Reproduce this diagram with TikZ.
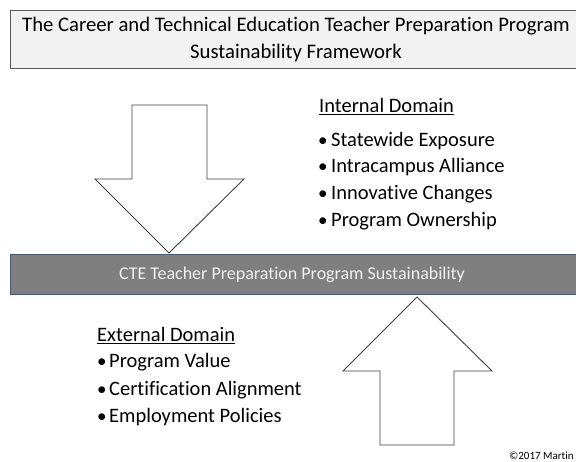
\documentclass[tikz,border=0pt]{standalone}
\usepackage{fontspec}
\setmainfont{Carlito}[Ligatures=NoCommon]
\definecolor{titlefill}{HTML}{F2F2F2}
\definecolor{titleline}{HTML}{595959}
\definecolor{bandfill}{HTML}{7F7F7F}
\definecolor{bandline}{HTML}{4A5872}
\definecolor{bandtext}{HTML}{F0F0F0}
\definecolor{arrowline}{HTML}{404040}
\tikzset{
  titlebox/.style={draw=titleline, fill=titlefill, line width=0.9pt},
  bandbox/.style={draw=bandline, fill=bandfill, line width=1pt},
  bigarrow/.style={draw=arrowline, fill=white, line width=0.9pt, line join=miter},
  heading/.style={anchor=base west, inner sep=0pt, font=\fontsize{20.5}{24}\selectfont},
  itemtext/.style={anchor=base west, inner sep=0pt, font=\fontsize{20.5}{24}\selectfont},
  bullettext/.style={anchor=base west, inner sep=0pt, font=\fontsize{19}{24}\selectfont},
}
\begin{document}
\begin{tikzpicture}[x=1pt,y=1pt]
\useasboundingbox (0,0) rectangle (576,461);
\begin{scope}
\clip (0,0) rectangle (576,461);
% title
\draw[titlebox] (10,393) rectangle (600,451);
\node[font=\fontsize{20.7}{27}\selectfont, align=center, inner sep=0pt, anchor=base] (title) at (296,402)
  {The Career and Technical Education Teacher Preparation Program\\Sustainability Framework};
% band
\draw[bandbox] (10,166) rectangle (600,206);
\node[font=\fontsize{18}{20}\selectfont, text=bandtext, inner sep=0pt, anchor=base] (band) at (292,181)
  {CTE Teacher Preparation Program Sustainability};
% down arrow
\draw[bigarrow] (132,356) -- (207,356) -- (207,282) -- (244,282) -- (169,208) -- (95,282) -- (132,282) -- cycle;
% up arrow
\draw[bigarrow] (417,164) -- (492,90) -- (454,90) -- (454,16) -- (380,16) -- (380,90) -- (343,90) -- cycle;
% internal domain
\node[heading] (inth) at (319,348) {\underline{Internal Domain}};
\node[bullettext] (ib1) at (318,314) {•};
\node[itemtext] (i1) at (331,314) {Statewide Exposure};
\node[bullettext] (ib2) at (318,288) {•};
\node[itemtext] (i2) at (331,288) {Intracampus Alliance};
\node[bullettext] (ib3) at (318,261) {•};
\node[itemtext] (i3) at (331,261) {Innovative Changes};
\node[bullettext] (ib4) at (318,234) {•};
\node[itemtext] (i4) at (331,234) {Program Ownership};
% external domain
\node[heading] (exth) at (97,119) {\underline{External Domain}};
\node[bullettext] (eb1) at (97,93) {•};
\node[itemtext] (e1) at (109,93) {Program Value};
\node[bullettext] (eb2) at (97,66) {•};
\node[itemtext] (e2) at (109,66) {Certification Alignment};
\node[bullettext] (eb3) at (97,39) {•};
\node[itemtext] (e3) at (109,39) {Employment Policies};
% copyright
\node[anchor=base west, inner sep=0pt, font=\fontsize{11}{13}\selectfont] (copy) at (509,2) {©2017 Martin};
\end{scope}
\end{tikzpicture}
\end{document}
